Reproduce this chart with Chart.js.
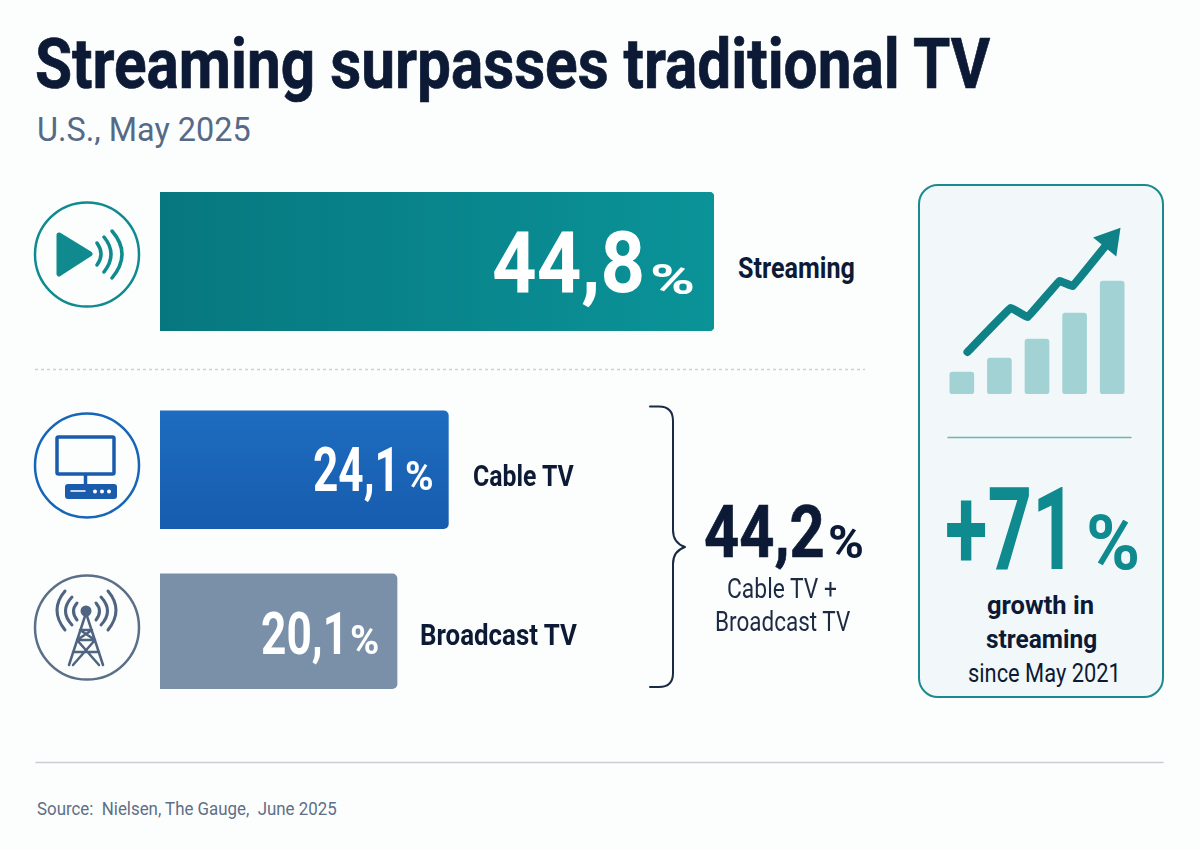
<!DOCTYPE html>
<html>
<head>
<meta charset="utf-8">
<title>Streaming surpasses traditional TV</title>
<script src="https://cdn.jsdelivr.net/npm/chart.js@4"></script>
<style>
html, body { margin: 0; padding: 0; width: 1200px; height: 849px; overflow: hidden; background: #fcfdfd; }
canvas, svg { position: absolute; }
.card { position: absolute; left: 918px; top: 184px; width: 242px; height: 510px; border: 2px solid #1a8a8e; border-radius: 20px; background: #f2f8fa; }
.t { position: absolute; white-space: pre; line-height: 1; font-family: Roboto, sans-serif; transform-origin: 0 0; color: #0c1a35; }
.b { font-weight: 700; }
.heavy { -webkit-text-stroke: 0.7px currentColor; }
</style>
</head>
<body>
<div class="card"></div>

<svg width="1200" height="849" fill="none" stroke-linecap="round" stroke-linejoin="round">
  <line x1="35" y1="369.5" x2="865" y2="369.5" stroke="#c8d2d9" stroke-width="1.5" stroke-dasharray="3 3" stroke-linecap="butt"/>
  <line x1="36" y1="762.5" x2="1163" y2="762.5" stroke="#c9cfd5" stroke-width="1.5"/>
  <line x1="948" y1="437.5" x2="1131" y2="437.5" stroke="#6db5b7" stroke-width="1.5"/>
  <path d="M650 406.5 H659 Q673 406.5 673 421 V530 Q673 543 685 547 Q673 551 673 564 V673 Q673 687 659 687 H650" stroke="#1a2a44" stroke-width="2"/>

  <g stroke="#0f8a8e">
    <circle cx="87" cy="254.5" r="52" stroke-width="2.5"/>
    <path d="M59 235 L90 254 L59 274 Z" fill="#0f8a8e" stroke-width="5"/>
    <path d="M97 243 Q105 254 97 265 M104 237 Q118 254 104 272 M112 231 Q132 254 112 278" stroke-width="3.5"/>
  </g>

  <g stroke="#1a5cab">
    <circle cx="87" cy="465.5" r="52" stroke="#1565b8" stroke-width="2.5"/>
    <rect x="57" y="437" width="57" height="37" rx="1.5" stroke-width="3.5"/>
    <line x1="85.5" y1="475" x2="85.5" y2="484" stroke-width="3.5"/>
    <rect x="65" y="484" width="52" height="15" rx="3" fill="#1a5cab" stroke="none"/>
    <line x1="71" y1="491" x2="85" y2="491" stroke="#fff" stroke-width="1.5"/>
    <g fill="#fff" stroke="none"><circle cx="95" cy="491.5" r="2"/><circle cx="102" cy="491.5" r="2"/><circle cx="109" cy="491.5" r="2"/></g>
  </g>

  <g stroke="#4f6480">
    <circle cx="87" cy="627.5" r="52" stroke="#5b6f88" stroke-width="2.5"/>
    <circle cx="86" cy="611" r="5.5" fill="#4f6480" stroke="none"/>
    <path d="M86 613 L69 665 M86 613 L103 665 M80 630 H92 M77 640 H95 M73 652 H99 M77 640 L99 665 M95 640 L73 665 M80 630 L95 640 M92 630 L77 640" stroke-width="2.5"/>
    <path d="M77 603 Q70 611 77 620 M72 597 Q59 611 72 625 M65 591 Q49 610 65 630 M96 603 Q103 611 96 620 M101 597 Q114 611 101 625 M108 591 Q124 610 108 630" stroke-width="3"/>
  </g>
</svg>

<canvas id="streamingChart" width="554" height="139" style="left:160px;top:192px"></canvas>
<canvas id="linearChart" width="554" height="323" style="left:160px;top:389px"></canvas>
<canvas id="growthBarsChart" width="188" height="169" style="left:943px;top:225px"></canvas>
<canvas id="growthLineChart" width="188" height="169" style="left:943px;top:225px"></canvas>

<div class="t b heavy" data-w="955" style="left:35px;top:29px;font-size:70px">Streaming surpasses traditional TV</div>
<div class="t" data-w="214" style="left:37px;top:113px;font-size:33px;color:#566a87">U.S., May 2025</div>

<div class="t b" id="v0" data-w="153" style="left:492px;top:221px;font-size:85px;color:#fff"></div>
<div class="t b" data-w="45" style="left:650px;top:259px;font-size:42px;color:#fff">%</div>
<div class="t b" id="v1" data-w="87" style="left:313px;top:439px;font-size:62px;color:#fff"></div>
<div class="t b" data-w="29" style="left:405px;top:457px;font-size:40px;color:#fff">%</div>
<div class="t b" id="v2" data-w="87" style="left:261px;top:604px;font-size:59px;color:#fff"></div>
<div class="t b" data-w="29" style="left:350px;top:620px;font-size:41px;color:#fff">%</div>

<div class="t b" id="c0" data-w="117" style="left:738px;top:254px;font-size:29px"></div>
<div class="t b" id="c1" data-w="101" style="left:473px;top:462px;font-size:29px"></div>
<div class="t b" id="c2" data-w="157" style="left:420px;top:621px;font-size:29px"></div>

<div class="t b heavy" id="sum" data-w="121" style="left:704px;top:497px;font-size:72px"></div>
<div class="t b" data-w="36" style="left:828px;top:519px;font-size:46px">%</div>
<div class="t" data-w="110" style="left:727px;top:576px;font-size:27px;color:#1d2a44">Cable TV +</div>
<div class="t" data-w="135" style="left:715px;top:609px;font-size:27px;color:#1d2a44">Broadcast TV</div>

<div class="t b" id="growth" data-w="132" style="left:945px;top:472px;font-size:115px;color:#0f8a8e"></div>
<div class="t b" data-w="54" style="left:1086px;top:505px;font-size:76px;color:#0f8a8e">%</div>
<div class="t b" data-w="107" style="left:987px;top:592px;font-size:26px">growth in</div>
<div class="t b" data-w="111" style="left:986px;top:626px;font-size:26px">streaming</div>
<div class="t" data-w="153" style="left:968px;top:661px;font-size:25px">since May 2021</div>

<div class="t" data-w="300" style="left:37px;top:800px;font-size:18px;color:#5f6f85">Source:  Nielsen, The Gauge,  June 2025</div>

<script>
// datos
const categories = ["Streaming", "Cable TV", "Broadcast TV"]
const shares = [44.8, 24.1, 20.1]
const combinedShare = 44.2
const growthPct = 71
const growthBars = [22, 36, 55, 81, 113]
const growthLabels = ["1", "2", "3", "4", "5"]
const trendX = [13, 36, 45, 62, 69, 86]
const trendY = [42, 86, 77, 113, 108, 147]

const axisMin = 1.63
const teal = "#0f8288"

const comma = v => v.toFixed(1).replace(".", ",")

document.getElementById("v0").textContent = comma(shares[0])
document.getElementById("v1").textContent = comma(shares[1])
document.getElementById("v2").textContent = comma(shares[2])
document.getElementById("sum").textContent = comma(combinedShare)
document.getElementById("growth").textContent = "+" + growthPct
categories.forEach((c, i) => document.getElementById("c" + i).textContent = c)

// ajustar el ancho de cada texto al de la imagen
document.querySelectorAll(".t").forEach(el => {
    el.style.transform = "scaleX(" + el.dataset.w / el.offsetWidth + ")"
})

function horizontalGradient(from, to) {
    return ctx => {
        const g = ctx.chart.ctx.createLinearGradient(0, 0, ctx.chart.width, 0)
        g.addColorStop(0, from)
        g.addColorStop(1, to)
        return g
    }
}

function verticalGradient(from, to, y0, y1) {
    return ctx => {
        const g = ctx.chart.ctx.createLinearGradient(0, y0, 0, y1)
        g.addColorStop(0, from)
        g.addColorStop(1, to)
        return g
    }
}

const bareOptions = {
    responsive: false,
    animation: false,
    layout: { padding: 0 },
    plugins: { legend: { display: false }, tooltip: { enabled: false } }
}

function shareChart(id, labels, datasets) {
    return new Chart(document.getElementById(id), {
        type: "bar",
        data: { labels, datasets },
        options: {
            ...bareOptions,
            indexAxis: "y",
            scales: {
                x: { display: false, min: axisMin, max: shares[0] },
                y: { display: false }
            }
        }
    })
}

shareChart("streamingChart", [categories[0]], [{
    data: [shares[0]],
    backgroundColor: horizontalGradient("#07777f", "#0a9398"),
    borderRadius: 5,
    barPercentage: 1,
    categoryPercentage: 1
}])

shareChart("linearChart", categories.slice(1), [{
    data: [shares[1], null],
    backgroundColor: verticalGradient("#1d6cbf", "#175cae", 22, 140),
    borderRadius: 5,
    barThickness: 118,
    grouped: false
}, {
    data: [null, shares[2]],
    backgroundColor: "#7a8fa8",
    borderRadius: 5,
    barThickness: 115,
    grouped: false
}])

new Chart(document.getElementById("growthBarsChart"), {
    type: "bar",
    data: {
        labels: growthLabels,
        datasets: [{
            data: growthBars,
            backgroundColor: "#a3d2d5",
            borderRadius: 3,
            borderSkipped: false,
            barThickness: 24
        }]
    },
    options: {
        ...bareOptions,
        scales: {
            x: { display: false },
            y: { display: false, min: 0, max: 169 }
        }
    }
})

// punta de flecha al final de la linea
const arrowHead = {
    id: "arrowHead",
    afterDatasetsDraw(chart) {
        const pts = chart.getDatasetMeta(0).data
        const end = pts[pts.length - 1]
        const prev = pts[pts.length - 2]
        const len = Math.hypot(end.x - prev.x, end.y - prev.y)
        const dx = (end.x - prev.x) / len
        const dy = (end.y - prev.y) / len
        const c = chart.ctx
        c.save()
        c.fillStyle = teal
        c.beginPath()
        c.moveTo(end.x + dx * 25, end.y + dy * 25)
        c.lineTo(end.x - dy * 15, end.y + dx * 15)
        c.lineTo(end.x + dy * 15, end.y - dx * 15)
        c.closePath()
        c.fill()
        c.restore()
    }
}

new Chart(document.getElementById("growthLineChart"), {
    type: "line",
    data: {
        datasets: [{
            data: trendX.map((x, i) => ({ x, y: trendY[i] })),
            borderColor: teal,
            borderWidth: 8,
            borderCapStyle: "round",
            borderJoinStyle: "round",
            pointRadius: 0,
            tension: 0.05
        }]
    },
    options: {
        ...bareOptions,
        scales: {
            x: { type: "linear", display: false, min: 0, max: 100 },
            y: { display: false, min: 0, max: 169 }
        }
    },
    plugins: [arrowHead]
})
</script>
</body>
</html>
